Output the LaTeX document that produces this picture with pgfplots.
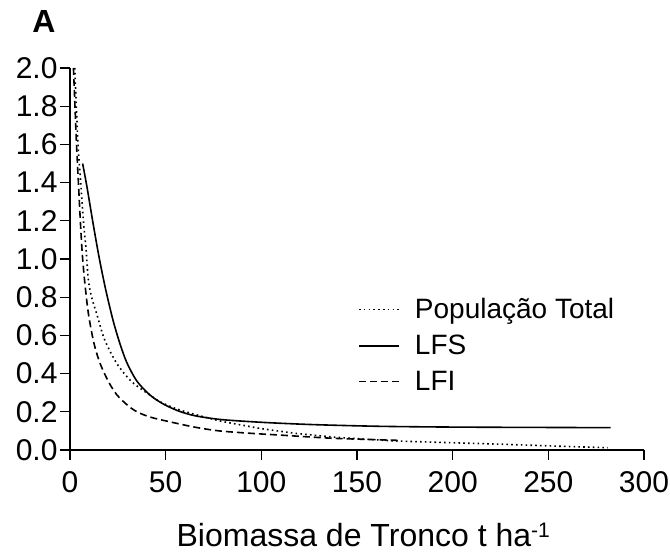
\documentclass[border=0pt]{standalone}
\usepackage{fontspec}
\setmainfont{Liberation Sans}
\usepackage{pgfplots}
\pgfplotsset{compat=1.18}
\begin{document}
\begin{tikzpicture}[x=1pt,y=1pt]
\useasboundingbox (0,0) rectangle (670,554);
\begin{axis}[
  at={(70pt,104pt)}, anchor=south west,
  scale only axis, width=574pt, height=382pt,
  xmin=0, xmax=300, ymin=0, ymax=2.0,
  axis lines*=left,
  axis line style={line width=1.1pt},
  tick style={line width=1.1pt, black},
  tick align=outside, major tick length=10pt,
  xtick={0,50,...,300},
  ytick={0,0.2,...,2.0},
  yticklabel={\pgfmathprintnumber[fixed,fixed zerofill,precision=1]{\tick}},
  /pgf/number format/assume math mode=true,
  ticklabel style={font=\fontsize{30}{34}\selectfont},
  xticklabel style={yshift=-8pt},
  yticklabel style={xshift=1pt},
  legend style={draw=none, fill=none, at={(axis cs:150.5,0.805)}, anchor=north west,
    font=\fontsize{28}{33}\selectfont, row sep=11pt, inner sep=0pt},
  legend cell align=left,
  legend image code/.code={\draw[#1] (0pt,0pt) -- (40pt,0pt); \path[draw=none,fill=none] (0pt,0pt) -- (54pt,0pt);},
]
\addplot[black, line width=1.6pt, dash pattern=on 1.6pt off 3.2pt, smooth] coordinates {
(2.5,2.0) (3.3,1.80) (4.3,1.58) (5.6,1.40) (7,1.2) (8.4,1.05) (9.6,0.89) (11.3,0.80) (13.9,0.715)
(18,0.58) (24.4,0.454) (32,0.36) (40,0.30) (47,0.253) (55,0.218) (64,0.19) (78,0.153)
(90,0.13) (100,0.112) (110,0.098) (120,0.085) (140,0.066) (162,0.052) (174,0.046) (190,0.041)
(226,0.03) (255,0.02) (281,0.012)};
\addlegendentry{População Total}
\addplot[black, line width=1.6pt, smooth] coordinates {
(6.6,1.50) (9,1.37) (12,1.19) (15,1.02) (18,0.87) (20.5,0.76) (23,0.66) (26,0.56)
(29.6,0.46) (35,0.36) (41.8,0.288) (48,0.245) (56,0.207) (65,0.18) (78.4,0.16) (95,0.148)
(110,0.14) (130,0.132) (162,0.124) (200,0.12) (250,0.118) (282.6,0.117)};
\addlegendentry{LFS}
\addplot[black, line width=1.6pt, dash pattern=on 7pt off 4pt, smooth] coordinates {
(1.8,2.0) (2.6,1.80) (3.4,1.60) (4.4,1.40) (5.4,1.20) (6.4,1.03) (7.6,0.89) (9.6,0.715)
(12.5,0.56) (15.7,0.454) (20,0.36) (24.4,0.29) (30,0.235) (35,0.20) (42,0.172) (52,0.148)
(65,0.12) (78,0.10) (95,0.087) (110,0.078) (136,0.062) (160,0.054) (173,0.05)};
\addlegendentry{LFI}
\end{axis}
\node[font=\fontsize{32}{36}\selectfont, anchor=base, inner sep=0pt] at (363.5,7.3)
  {Biomassa de Tronco t ha\textsuperscript{\fontsize{21}{21}\selectfont -1}};
\node[font=\bfseries\fontsize{32}{36}\selectfont, anchor=center] at (44,532.5) {A};
\end{tikzpicture}
\end{document}
